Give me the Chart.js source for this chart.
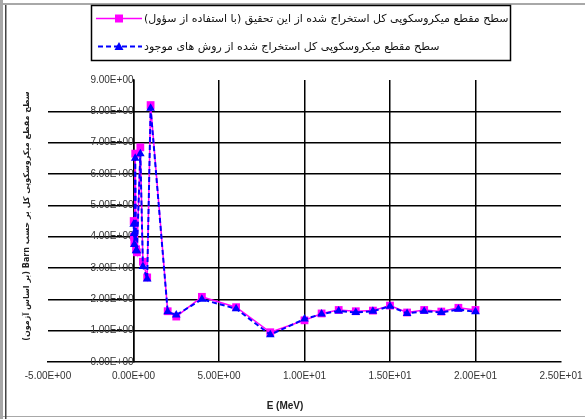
<!DOCTYPE html>
<html>
<head>
<meta charset="utf-8">
<script src="https://cdn.jsdelivr.net/npm/chart.js@4/dist/chart.umd.min.js"></script>
<style>
  body { margin: 0; background: #fff; }
  canvas { display: block; }
</style>
</head>
<body>
<canvas id="chart" width="585" height="419"></canvas>
<script>
// energies (MeV) and total microscopic cross sections (barn)
var ENERGY = [0.01, 0.03, 0.05, 0.1, 0.15, 0.2, 0.4, 0.55, 0.8, 1.0, 2.0, 2.5, 4, 6, 8, 10, 11, 12, 13, 14, 15, 16, 17, 18, 19, 20];
var SIGMA_THIS_WORK = [4.5, 4.0, 3.8, 6.65, 3.6, 3.5, 6.85, 3.2, 2.7, 8.2, 1.62, 1.45, 2.08, 1.75, 0.95, 1.33, 1.55, 1.66, 1.62, 1.64, 1.8, 1.58, 1.66, 1.61, 1.73, 1.66];
var SIGMA_EXISTING = [4.4, 4.1, 3.75, 6.5, 3.55, 3.55, 6.65, 3.05, 2.65, 8.1, 1.6, 1.5, 2.0, 1.7, 0.87, 1.37, 1.53, 1.63, 1.58, 1.62, 1.78, 1.55, 1.62, 1.58, 1.68, 1.6];

var X_TICKS = [-5, 0, 5, 10, 15, 20, 25];
var Y_TICKS = [0, 1, 2, 3, 4, 5, 6, 7, 8, 9];
var X_GRID = [0, 5, 10, 15, 20];
var Y_GRID = [1, 2, 3, 4, 5, 6, 7, 8];

var LEGEND_LABELS = [
    'سطح مقطع میکروسکوپی کل استخراج شده از این تحقیق (با استفاده از سؤول)',
    'سطح مقطع میکروسکوپی کل استخراج شده از روش های موجود'
];
var X_TITLE = 'E (MeV)';
var Y_TITLE = 'سطح مقطع میکروسکوپی کل بر حسب Barn (بر اساس آزمون)';

var PINK = '#ff00ff';
var BLUE = '#0000ff';

function toPoints(xs, ys) {
    var pts = [];
    for (var i = 0; i < xs.length; i++) {
        pts.push({x: xs[i], y: ys[i]});
    }
    return pts;
}

// Excel style 0.00E+00
function fmtE(v) {
    var s = Number(v).toExponential(2);
    var parts = s.split('e');
    var exp = parseInt(parts[1], 10);
    var sign = exp < 0 ? '-' : '+';
    exp = Math.abs(exp);
    return parts[0] + 'E' + sign + (exp < 10 ? '0' + exp : exp);
}

var framePlugin = {
    id: 'frame',
    beforeDraw: function (chart) {
        var ctx = chart.ctx;
        ctx.save();
        ctx.fillStyle = '#fff';
        ctx.fillRect(0, 0, chart.width, chart.height);
        // page frame
        ctx.fillStyle = '#a8a8a8';
        ctx.fillRect(0, 0, 3, chart.height);
        ctx.fillRect(0, 3, chart.width, 2);
        ctx.fillRect(0, 416, chart.width, 1);
        ctx.fillStyle = '#444';
        ctx.fillRect(5, 5, 1.5, chart.height - 5);
        ctx.restore();
    },
    afterDraw: function (chart) {
        var ctx = chart.ctx;
        ctx.save();

        // legend box
        ctx.strokeStyle = '#000';
        ctx.lineWidth = 1.5;
        ctx.strokeRect(91.5, 5.5, 419, 55);

        // sample 1: solid magenta with square
        ctx.strokeStyle = PINK;
        ctx.lineWidth = 1.5;
        ctx.beginPath();
        ctx.moveTo(96, 18.5);
        ctx.lineTo(142, 18.5);
        ctx.stroke();
        ctx.fillStyle = PINK;
        ctx.fillRect(115, 14.5, 8, 8);

        // sample 2: dashed blue with triangle
        ctx.strokeStyle = BLUE;
        ctx.lineWidth = 2;
        ctx.setLineDash([5, 3]);
        ctx.beginPath();
        ctx.moveTo(98, 46.5);
        ctx.lineTo(142, 46.5);
        ctx.stroke();
        ctx.setLineDash([]);
        ctx.fillStyle = BLUE;
        ctx.beginPath();
        ctx.moveTo(119, 42);
        ctx.lineTo(123.5, 50);
        ctx.lineTo(114.5, 50);
        ctx.closePath();
        ctx.fill();

        ctx.fillStyle = '#111';
        ctx.font = '11px "DejaVu Sans"';
        ctx.direction = 'rtl';
        ctx.textAlign = 'left';
        ctx.textBaseline = 'middle';
        ctx.fillText(LEGEND_LABELS[0], 144, 19);
        ctx.fillText(LEGEND_LABELS[1], 144, 47);

        // axis titles
        ctx.direction = 'ltr';
        ctx.textAlign = 'center';
        ctx.font = 'bold 10px "Liberation Sans"';
        ctx.fillStyle = '#222';
        ctx.fillText(X_TITLE, 285, 406);

        ctx.translate(27, 216);
        ctx.rotate(-Math.PI / 2);
        ctx.direction = 'rtl';
        ctx.font = 'bold 8px "DejaVu Sans"';
        ctx.fillText(Y_TITLE, 0, 0);
        ctx.restore();
    }
};

var myChart = new Chart(document.getElementById('chart'), {
    type: 'scatter',
    data: {
        datasets: [{
            label: LEGEND_LABELS[0],
            data: toPoints(ENERGY, SIGMA_THIS_WORK),
            showLine: true,
            borderColor: PINK,
            backgroundColor: PINK,
            borderWidth: 1.5,
            pointStyle: 'rect',
            pointRadius: 5.5,
            pointBorderWidth: 0,
            order: 2
        }, {
            label: LEGEND_LABELS[1],
            data: toPoints(ENERGY, SIGMA_EXISTING),
            showLine: true,
            borderColor: BLUE,
            backgroundColor: BLUE,
            borderWidth: 2,
            borderDash: [5, 3],
            pointStyle: 'triangle',
            pointRadius: 5,
            pointBorderWidth: 0,
            order: 1
        }]
    },
    options: {
        responsive: false,
        animation: false,
        layout: {
            padding: {left: 48, right: 24, top: 80, bottom: 29}
        },
        plugins: {
            legend: {display: false},
            tooltip: {enabled: false}
        },
        scales: {
            x: {
                type: 'linear',
                position: 'bottom',
                min: -5,
                max: 25,
                afterBuildTicks: function (scale) {
                    scale.ticks = X_TICKS.map(function (v) { return {value: v}; });
                },
                afterFit: function (scale) {
                    // let the end labels hang over the plot edges
                    scale.paddingLeft = 0;
                    scale.paddingRight = 0;
                },
                ticks: {
                    callback: fmtE,
                    color: '#333',
                    font: {family: 'Liberation Sans', size: 10},
                    padding: 8,
                    maxRotation: 0,
                    autoSkip: false
                },
                grid: {
                    color: function (c) {
                        return X_GRID.indexOf(c.tick.value) >= 0 ? '#000' : 'rgba(0,0,0,0)';
                    },
                    lineWidth: 1.5,
                    drawTicks: false
                },
                border: {display: true, color: '#000', width: 1.5}
            },
            y: {
                type: 'linear',
                position: {x: 0},
                min: 0,
                max: 9,
                afterBuildTicks: function (scale) {
                    scale.ticks = Y_TICKS.map(function (v) { return {value: v}; });
                },
                ticks: {
                    callback: fmtE,
                    color: '#333',
                    font: {family: 'Liberation Sans', size: 10},
                    padding: 7,
                    autoSkip: false
                },
                grid: {
                    color: function (c) {
                        return Y_GRID.indexOf(c.tick.value) >= 0 ? '#000' : 'rgba(0,0,0,0)';
                    },
                    lineWidth: 1.5,
                    drawTicks: false
                },
                border: {display: true, color: '#000', width: 1.5}
            }
        }
    },
    plugins: [framePlugin]
});
</script>
</body>
</html>
